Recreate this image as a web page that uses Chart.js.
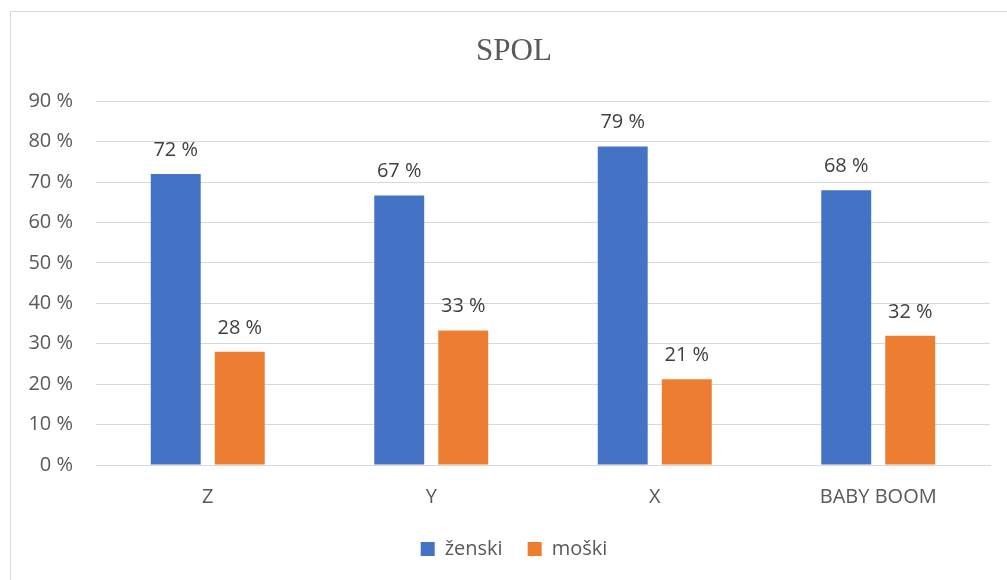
<!DOCTYPE html>
<html>
<head>
<meta charset="utf-8">
<script src="https://cdn.jsdelivr.net/npm/chart.js@4/dist/chart.umd.min.js"></script>
<style>
  body { margin: 0; overflow: hidden; background: #fff; }
  #frame { position: absolute; left: 10px; top: 11px; width: 1100px; height: 700px;
           border-left: 1px solid #d9d9d9; border-top: 1px solid #d9d9d9; }
  #wrap { position: absolute; left: 0; top: 0; width: 1018px; height: 580px; }
</style>
</head>
<body>
<div id="frame"></div>
<div id="wrap"><canvas id="c" width="1018" height="580"></canvas></div>
<script>
// data
const categories = ['Z', 'Y', 'X', 'BABY BOOM'];
const zenski = [72, 66.7, 78.8, 68];
const moski = [28, 33.3, 21.2, 32];
const yTicks = [0, 10, 20, 30, 40, 50, 60, 70, 80, 90];

const font = 'Open Sans';

// draw the value above every bar
const barLabels = {
    id: 'barLabels',
    afterDatasetsDraw(chart) {
        const ctx = chart.ctx;
        ctx.save();
        ctx.font = '20px "' + font + '"';
        ctx.fillStyle = '#404040';
        ctx.textAlign = 'center';
        ctx.textBaseline = 'alphabetic';
        chart.data.datasets.forEach((ds, i) => {
            chart.getDatasetMeta(i).data.forEach((bar, j) => {
                ctx.fillText(Math.round(ds.data[j]) + ' %', bar.x, bar.y - 18);
            });
        });
        ctx.restore();
    }
};

new Chart(document.getElementById('c'), {
    type: 'bar',
    data: {
        labels: categories,
        datasets: [
            { label: 'ženski', data: zenski, backgroundColor: '#4472C4' },
            { label: 'moški', data: moski, backgroundColor: '#ED7D31' }
        ]
    },
    options: {
        responsive: false,
        animation: false,
        datasets: { bar: { categoryPercentage: 0.573, barPercentage: 0.78 } },
        layout: { padding: { left: 27, right: 17, top: 0, bottom: 11 } },
        plugins: {
            title: {
                display: true,
                text: 'SPOL',
                color: '#595959',
                font: { family: 'Liberation Serif', size: 31, weight: 'normal' },
                padding: { top: 33, bottom: 31 }
            },
            legend: {
                position: 'bottom',
                labels: {
                    color: '#595959',
                    font: { family: font, size: 20 },
                    boxWidth: 14,
                    boxHeight: 14,
                    padding: 25
                }
            },
            tooltip: { enabled: false }
        },
        scales: {
            x: {
                grid: { display: false },
                border: { color: '#d9d9d9' },
                ticks: { color: '#595959', font: { family: font, size: 20 }, padding: 12 },
                afterFit(scale) { scale.height = 49; }
            },
            y: {
                min: 0,
                max: 90,
                afterBuildTicks(scale) { scale.ticks = yTicks.map(v => ({ value: v })); },
                afterFit(scale) { scale.width = 69; },
                grid: { color: '#d9d9d9', drawTicks: false },
                border: { display: false },
                ticks: {
                    color: '#595959',
                    font: { family: font, size: 20 },
                    padding: 23,
                    callback: v => v + ' %'
                }
            },
            // empty right margin so the title and legend sit where they do in the picture
            pad: {
                type: 'linear',
                position: 'right',
                grid: { display: false },
                border: { display: false },
                ticks: { display: false },
                afterFit(scale) { scale.width = 11; }
            }
        }
    },
    plugins: [barLabels]
});
</script>
</body>
</html>
